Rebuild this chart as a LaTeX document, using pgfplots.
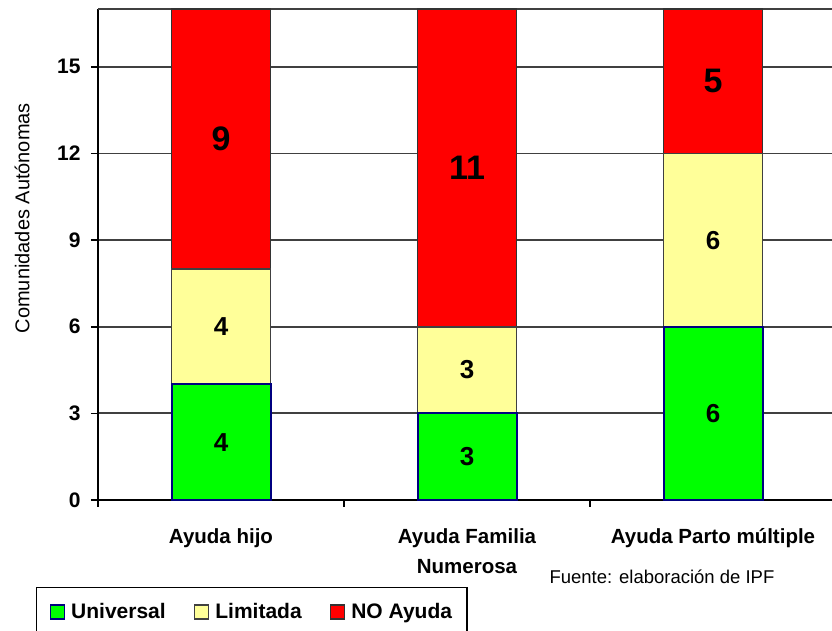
\documentclass[border=0pt]{standalone}
\usepackage{fontspec}
\setmainfont{Liberation Sans}
\usepackage{pgfplots}
\pgfplotsset{compat=1.18}
\definecolor{cgreen}{HTML}{00FF00}
\definecolor{cyellow}{HTML}{FFFF99}
\definecolor{cred}{HTML}{FF0000}
\definecolor{cnavy}{HTML}{000080}
\definecolor{cgrid}{HTML}{404040}
\begin{document}
\begin{tikzpicture}[x=1pt,y=1pt]
\pgfplotsset{
  base/.style={
    at={(98pt,131pt)}, anchor=south west,
    scale only axis, width=738pt, height=491pt,
    xmin=-0.5, xmax=2.5, ymin=0, ymax=17,
    clip=false,
  },
  legimg/.style={legend image code/.code={\draw[##1, line width=1.6pt] (0pt,-7pt) rectangle (14pt,7pt);}},
}
\begin{axis}[base,
  ybar stacked, bar width=99pt,
  axis x line=bottom, axis y line=left,
  axis line style={-, black, line width=2pt},
  /pgf/number format/assume math mode=true,
  tick align=outside,
  ytick={0,3,6,9,12,15},
  major tick length=7pt,
  tick style={black, line width=1.6pt},
  yticklabel style={font=\fontsize{21}{24}\bfseries\selectfont, xshift=-7pt},
  xtick={-0.5,0.5,1.5,2.5},
  xticklabels={},
  extra x ticks={0,1,2},
  extra x tick labels={Ayuda hijo, Ayuda Familia\\Numerosa, Ayuda Parto múltiple},
  extra x tick style={major tick length=0pt, tick label style={font=\fontsize{20.5}{30}\bfseries\selectfont, align=center, anchor=north, yshift=-25pt}},
  extra y ticks={17},
  extra y tick labels={},
  extra y tick style={major tick length=0pt, grid=major},
  ymajorgrids=true,
  grid style={cgrid, line width=1.7pt},
  ylabel={Comunidades Autónomas},
  every axis y label/.style={at={(rel axis cs:0,0.574)}, xshift=-76pt, rotate=90, anchor=center, font=\fontsize{20}{24}\selectfont},
  legend columns=3,
  legend style={at={(-0.084,-0.1772)}, anchor=north west, draw=black, line width=1.2pt,
    font=\fontsize{21}{24}\bfseries\selectfont,
    inner xsep=13pt, inner ysep=14pt,
    /tikz/every odd column/.append style={column sep=4pt},
    /tikz/every even column/.append style={column sep=26pt}},
]
\addplot[fill=cgreen, draw=cnavy, line width=2pt, legimg] coordinates {(0,4) (1,3) (2,6)};
\addplot[fill=cyellow, draw=cgrid, line width=1.8pt, legimg] coordinates {(0,4) (1,3) (2,6)};
\addplot[fill=cred, draw=black!80, line width=1.8pt, legimg] coordinates {(0,9) (1,11) (2,5)};
\legend{Universal, Limitada, NO Ayuda}
\end{axis}
\begin{axis}[base, hide axis]
\addplot[draw=none, mark=none, nodes near coords, point meta=explicit symbolic,
  every node near coord/.append style={anchor=center, font=\fontsize{26}{28}\bfseries\selectfont}]
  coordinates {(0,2) [4] (1,1.5) [3] (2,3) [6]};
\addplot[draw=none, mark=none, nodes near coords, point meta=explicit symbolic,
  every node near coord/.append style={anchor=center, font=\fontsize{26}{28}\bfseries\selectfont}]
  coordinates {(0,6) [4] (1,4.5) [3] (2,9) [6]};
\addplot[draw=none, mark=none, nodes near coords, point meta=explicit symbolic,
  every node near coord/.append style={anchor=center, font=\fontsize{34}{36}\bfseries\selectfont}]
  coordinates {(0,12.5) [9] (1,11.5) [11] (2,14.5) [5]};
\end{axis}
\node[anchor=base west, font=\fontsize{18.5}{22}\selectfont] at (546,47) {Fuente: elaboración de IPF};
\pgfresetboundingbox
\useasboundingbox (0,0) rectangle (832,631);
\end{tikzpicture}
\end{document}
